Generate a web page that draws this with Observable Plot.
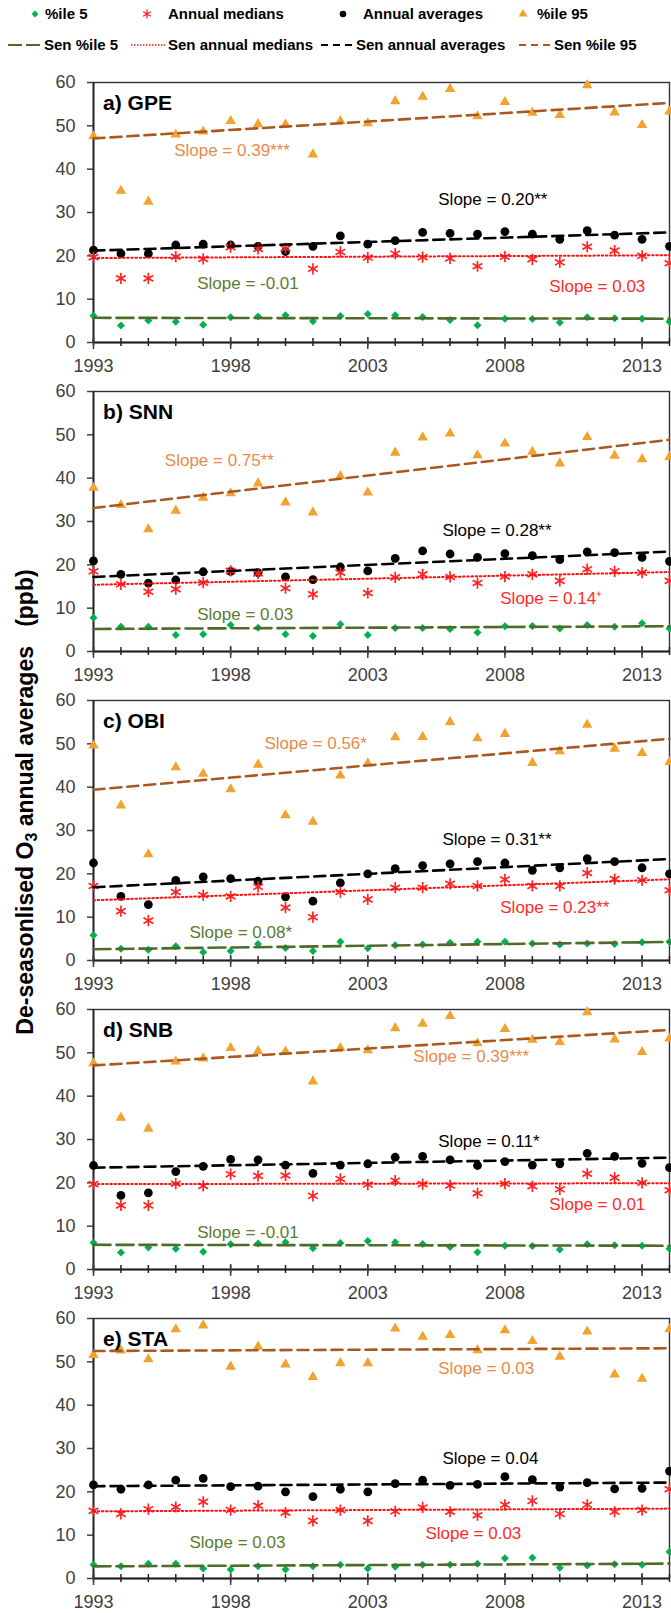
<!DOCTYPE html>
<html>
<head>
<meta charset="utf-8">
<script src="https://cdn.jsdelivr.net/npm/d3@7"></script>
<script src="https://cdn.jsdelivr.net/npm/@observablehq/plot@0.6"></script>
<style>
  html, body { margin: 0; padding: 0; background: #fff; overflow: hidden; }
  #chart { position: relative; width: 671px; font-family: "Liberation Sans", Arial, sans-serif; }
  #chart svg { display: block; }
  #ytitle {
    position: absolute; left: 25px; top: 802px;
    transform: translate(-50%, -50%) rotate(-90deg);
    white-space: pre; font: bold 23px "Liberation Sans", Arial, sans-serif; color: #000;
  }
  #ytitle sub { font-size: 0.7em; vertical-align: -0.25em; line-height: 0; }
</style>
</head>
<body>
<div id="chart"></div>
<script>
// ---- Data: de-seasonalised O3 annual statistics (ppb), 1993-2014 ----
const years = [1993, 1994, 1995, 1996, 1997, 1998, 1999, 2000, 2001, 2002, 2003,
               2004, 2005, 2006, 2007, 2008, 2009, 2010, 2011, 2012, 2013, 2014];
const xLabelYears = [1993, 1998, 2003, 2008, 2013];
const yTicks = [0, 10, 20, 30, 40, 50, 60];

// a) GPE
const gpeP5  = [6.2, 3.9, 5.1, 4.8, 4.1, 5.8, 6.0, 6.3, 4.9, 6.1, 6.6, 6.3, 5.9, 5.2, 4.0, 5.5, 5.4, 4.6, 5.8, 5.6, 5.5, 4.8];
const gpeMed = [19.7, 14.8, 14.8, 19.8, 19.3, 22.0, 21.6, 21.7, 17.0, 20.9, 19.6, 20.5, 19.7, 19.4, 17.6, 19.8, 19.2, 18.5, 22.1, 21.2, 20.0, 18.3];
const gpeAvg = [21.3, 20.5, 20.5, 22.5, 22.7, 22.5, 22.2, 21.0, 22.2, 24.6, 22.7, 23.5, 25.4, 25.2, 25.0, 25.6, 25.0, 23.8, 25.8, 24.8, 23.8, 22.2];
const gpeP95 = [47.6, 35.0, 32.5, 48.0, 48.7, 51.1, 50.4, 50.3, 43.4, 51.1, 50.6, 55.7, 56.7, 58.5, 52.2, 55.5, 53.0, 52.5, 59.4, 53.1, 50.2, 53.3];
const gpeSlope = {p5: -0.01, med: 0.03, avg: 0.20, p95: 0.39};
const gpeSig   = {p5: "", med: "", avg: "**", p95: "***"};
const gpeSen1993 = {p5: 5.7, med: 19.5, avg: 21.2, p95: 47.1};

// b) SNN
const snnP5  = [7.8, 5.7, 5.7, 3.8, 4.0, 6.1, 5.5, 4.0, 3.6, 6.3, 3.8, 5.4, 5.4, 5.2, 4.4, 5.8, 5.9, 5.3, 6.1, 5.7, 6.5, 5.3];
const snnMed = [18.5, 15.5, 13.8, 14.4, 15.9, 18.6, 18.0, 14.6, 13.2, 18.2, 13.5, 17.1, 17.8, 17.2, 15.8, 17.3, 17.8, 16.3, 19.0, 18.5, 18.2, 16.3];
const snnAvg = [20.9, 17.8, 15.8, 16.5, 18.4, 18.5, 18.2, 17.2, 16.6, 19.5, 18.6, 21.5, 23.2, 22.5, 21.7, 22.6, 22.1, 21.2, 23.0, 22.8, 21.7, 20.8];
const snnP95 = [37.8, 33.8, 28.2, 32.5, 35.5, 36.5, 38.8, 34.4, 32.1, 40.5, 36.7, 45.9, 49.4, 50.3, 45.3, 48.0, 46.1, 43.4, 49.5, 45.2, 44.4, 44.9];
const snnSlope = {p5: 0.03, med: 0.14, avg: 0.28, p95: 0.75};
const snnSig   = {p5: "", med: "\u207A", avg: "**", p95: "**"};
const snnSen1993 = {p5: 5.2, med: 15.4, avg: 17.2, p95: 33.1};

// c) OBI
const obiP5  = [5.8, 2.7, 2.5, 3.3, 1.9, 2.2, 3.8, 2.9, 2.2, 4.3, 2.8, 3.5, 3.7, 4.1, 4.3, 4.3, 3.9, 3.7, 3.9, 3.8, 4.2, 4.3];
const obiMed = [17.2, 11.4, 9.2, 15.8, 15.1, 14.8, 17.0, 12.2, 10.0, 15.8, 14.1, 16.8, 16.8, 17.7, 17.2, 18.7, 17.2, 17.2, 20.2, 18.8, 18.5, 16.2];
const obiAvg = [22.5, 14.8, 12.9, 18.5, 19.3, 18.9, 18.3, 14.7, 13.7, 17.9, 20.0, 21.2, 21.9, 22.3, 22.8, 22.5, 20.8, 21.4, 23.5, 22.8, 21.4, 20.0];
const obiP95 = [49.6, 35.8, 24.5, 44.6, 43.1, 39.5, 45.2, 33.5, 32.0, 42.7, 45.5, 51.5, 51.6, 55.0, 51.3, 52.3, 45.6, 48.3, 54.4, 48.9, 47.9, 45.8];
const obiSlope = {p5: 0.08, med: 0.23, avg: 0.31, p95: 0.56};
const obiSig   = {p5: "*", med: "**", avg: "**", p95: "*"};
const obiSen1993 = {p5: 2.6, med: 13.9, avg: 16.9, p95: 39.4};

// d) SNB
const snbP5  = [6.2, 3.9, 5.1, 4.8, 4.1, 5.8, 6.0, 6.3, 4.9, 6.1, 6.6, 6.3, 5.9, 5.2, 4.0, 5.5, 5.4, 4.6, 5.8, 5.6, 5.5, 4.8];
const snbMed = [19.7, 14.8, 14.8, 19.8, 19.3, 22.0, 21.6, 21.7, 17.0, 20.9, 19.6, 20.5, 19.7, 19.4, 17.6, 19.8, 19.2, 18.5, 22.1, 21.2, 20.0, 18.3];
const snbAvg = [24.0, 17.1, 17.7, 22.6, 23.8, 25.4, 25.3, 24.1, 22.2, 24.1, 24.4, 25.9, 26.1, 25.3, 24.0, 24.9, 24.1, 24.4, 26.8, 26.1, 24.5, 23.5];
const snbP95 = [47.6, 35.0, 32.5, 48.0, 48.7, 51.1, 50.4, 50.3, 43.4, 51.1, 50.6, 55.7, 56.7, 58.5, 52.2, 55.5, 53.0, 52.5, 59.4, 53.1, 50.2, 53.3];
const snbSlope = {p5: -0.01, med: 0.01, avg: 0.11, p95: 0.39};
const snbSig   = {p5: "", med: "", avg: "*", p95: "***"};
const snbSen1993 = {p5: 5.7, med: 19.7, avg: 23.5, p95: 47.1};

// e) STA
const staP5  = [3.2, 2.8, 3.4, 3.4, 2.3, 2.1, 2.8, 2.1, 2.8, 3.2, 2.3, 2.7, 3.2, 3.2, 3.4, 4.7, 4.8, 2.5, 3.0, 3.3, 3.2, 6.2];
const staMed = [15.6, 14.9, 16.0, 16.5, 17.7, 15.8, 16.8, 15.2, 13.3, 15.8, 13.3, 15.5, 16.4, 15.4, 14.6, 17.0, 17.9, 14.9, 17.0, 15.4, 15.8, 20.6];
const staAvg = [21.6, 20.6, 21.6, 22.7, 23.1, 21.2, 21.3, 20.0, 18.9, 20.6, 20.0, 21.9, 22.7, 21.5, 21.7, 23.5, 22.8, 21.1, 22.1, 20.7, 20.8, 24.8];
const staP95 = [51.6, 52.6, 50.6, 57.5, 58.4, 48.9, 53.5, 49.4, 46.5, 49.7, 49.7, 57.7, 55.8, 56.2, 52.7, 57.3, 54.8, 51.2, 57.0, 47.1, 46.1, 57.5];
const staSlope = {p5: 0.03, med: 0.03, avg: 0.04, p95: 0.03};
const staSig   = {p5: "", med: "", avg: "", p95: ""};
const staSen1993 = {p5: 2.8, med: 15.5, avg: 21.3, p95: 52.5};

// ---- Series appearance ----
const seriesKeys = ["p95", "avg", "med", "p5"];
const style = {
  p5:  {name: "%ile 5",          symbol: "diamond2", fill: "#00B050", stroke: "none",    r: 3.6, sw: 0,
        line: "#4F6B28", dash: "17,6",    lw: 2.6, note: "#5B7B31", senName: "Sen %ile 5"},
  med: {name: "Annual medians",  symbol: "asterisk", fill: "none",    stroke: "#FF2424", r: 5.3, sw: 1.7,
        line: "#FF1010", dash: "1.6,2.6", lw: 2.0, note: "#FF2A2A", senName: "Sen annual medians"},
  avg: {name: "Annual averages", symbol: "circle",   fill: "#000",    stroke: "none",    r: 4.4, sw: 0,
        line: "#000",    dash: "11,6",    lw: 2.6, note: "#000",    senName: "Sen annual averages"},
  p95: {name: "%ile 95",         symbol: "triangle", fill: "#F2A22F", stroke: "none",    r: 3.9, sw: 0,
        line: "#A9581F", dash: "11,6",    lw: 2.6, note: "#E88B4A", senName: "Sen %ile 95"}
};

// ---- Panels: data plus where each slope note is written (year, ppb) ----
const panels = [
  {title: "a) GPE", p5: gpeP5, med: gpeMed, avg: gpeAvg, p95: gpeP95, slope: gpeSlope, sig: gpeSig, sen: gpeSen1993,
   noteAt: {p95: [1995.94, 44.4], avg: [2005.57, 32.9], p5: [1996.78, 13.5], med: [2009.62, 12.9]}},
  {title: "b) SNN", p5: snnP5, med: snnMed, avg: snnAvg, p95: snnP95, slope: snnSlope, sig: snnSig, sen: snnSen1993,
   noteAt: {p95: [1995.6, 44.0], avg: [2005.72, 27.9], p5: [1996.78, 8.6], med: [2007.83, 12.3]}},
  {title: "c) OBI", p5: obiP5, med: obiMed, avg: obiAvg, p95: obiP95, slope: obiSlope, sig: obiSig, sen: obiSen1993,
   noteAt: {p95: [1999.23, 50.0], avg: [2005.72, 27.8], p5: [1996.5, 6.4], med: [2007.83, 12.3]}},
  {title: "d) SNB", p5: snbP5, med: snbMed, avg: snbAvg, p95: snbP95, slope: snbSlope, sig: snbSig, sen: snbSen1993,
   noteAt: {p95: [2004.66, 49.1], avg: [2005.57, 29.5], p5: [1996.78, 8.5], med: [2009.62, 15.1]}},
  {title: "e) STA", p5: staP5, med: staMed, avg: staAvg, p95: staP95, slope: staSlope, sig: staSig, sen: staSen1993,
   noteAt: {p95: [2005.57, 48.5], avg: [2005.72, 27.7], p5: [1996.5, 8.4], med: [2005.1, 10.4]}}
];

const FONT = '"Liberation Sans", Arial, sans-serif';
const AXIS = "#404040";
const root = d3.select("#chart");

// ---- Legend (two rows above the panels) ----
const legend = d3.create("svg").attr("width", 671).attr("height", 70)
  .style("font-family", FONT).style("font-weight", "bold").style("font-size", "15px");
const legendMarks = [
  {key: "p5", x: 35, tx: 45}, {key: "med", x: 147, tx: 168},
  {key: "avg", x: 343, tx: 363}, {key: "p95", x: 523, tx: 537}
];
const legendLines = [
  {key: "p5", x1: 8, x2: 41, tx: 44, dash: "14,4"},
  {key: "med", x1: 131, x2: 165, tx: 168, dash: "1.5,1.5"},
  {key: "avg", x1: 321, x2: 353, tx: 356, dash: "7,5"},
  {key: "p95", x1: 519, x2: 551, tx: 554, dash: "7,5"}
];
const legendSymbol = {p5: [d3.symbolDiamond2, 30], med: [d3.symbolAsterisk, 55], avg: [d3.symbolCircle, 34], p95: [d3.symbolTriangle, 34]};
for (const m of legendMarks) {
  const s = style[m.key];
  const [sym, size] = legendSymbol[m.key];
  legend.append("path").attr("d", d3.symbol(sym, size)())
    .attr("transform", `translate(${m.x},14)`)
    .attr("fill", s.fill).attr("stroke", s.stroke).attr("stroke-width", 1.3);
  legend.append("text").attr("x", m.tx).attr("y", 14).attr("dy", "0.35em").text(s.name);
}
for (const l of legendLines) {
  const s = style[l.key];
  legend.append("line").attr("x1", l.x1).attr("x2", l.x2).attr("y1", 45).attr("y2", 45)
    .attr("stroke", s.line).attr("stroke-width", l.key === "med" ? 1.6 : 2.2).attr("stroke-dasharray", l.dash);
  legend.append("text").attr("x", l.tx).attr("y", 45).attr("dy", "0.35em").text(s.senName);
}
root.node().appendChild(legend.node());

// ---- One chart per station ----
panels.forEach((p, idx) => {
  const last = idx === panels.length - 1;
  const points = k => years.map((year, i) => ({year, value: p[k][i]}));
  const senLine = k => [1993, 2014].map(year => ({year, value: p.sen[k] + p.slope[k] * (year - 1993)}));
  const notes = seriesKeys.map(k => ({
    year: p.noteAt[k][0], value: p.noteAt[k][1],
    text: `Slope = ${p.slope[k].toFixed(2)}${p.sig[k]}`, color: style[k].note
  }));

  const marks = [
    Plot.frame({stroke: "#333", strokeWidth: 1.4}),
    Plot.ruleY([0], {stroke: "#222", strokeWidth: 2}),
    Plot.ruleX([1993], {stroke: "#222", strokeWidth: 1.8}),
    Plot.axisY({ticks: yTicks, tickSize: 6, tickPadding: 12, fontSize: 18, color: AXIS, strokeWidth: 1.5, label: null}),
    Plot.axisX({ticks: years, tickSize: 8, dy: -4, tickFormat: () => "", color: "#222", strokeWidth: 1.5, label: null}),
    Plot.axisX({ticks: xLabelYears, tickSize: 12, dy: -5, tickFormat: d => String(d), tickPadding: 10,
                fontSize: 18, color: AXIS, strokeWidth: 1.5, label: null})
  ];
  for (const k of seriesKeys) {
    const s = style[k];
    marks.push(Plot.dot(points(k), {x: "year", y: "value", symbol: s.symbol, r: s.r,
      fill: s.fill, stroke: s.stroke, strokeWidth: s.sw}));
  }
  for (const k of ["p5", "med", "avg", "p95"]) {
    const s = style[k];
    marks.push(Plot.line(senLine(k), {x: "year", y: "value", stroke: s.line, strokeWidth: s.lw, strokeDasharray: s.dash}));
  }
  marks.push(Plot.text(notes, {x: "year", y: "value", text: "text", fill: "color",
    textAnchor: "start", fontSize: 17}));
  marks.push(Plot.text([p.title], {x: 1993.35, y: 55.2, text: d => d, textAnchor: "start",
    fontSize: 21, fontWeight: "bold", fill: "#000"}));

  const chart = Plot.plot({
    width: 671, height: last ? 307 : 309,
    marginLeft: 93, marginRight: 2, marginTop: 12, marginBottom: last ? 35 : 37,
    x: {domain: [1993, 2014]},
    y: {domain: [0, 60]},
    style: {fontFamily: FONT, fontSize: "18px", background: "transparent", overflow: "visible"},
    marks
  });
  root.node().appendChild(chart);
});

// ---- Shared y-axis title ----
const ytitle = document.createElement("div");
ytitle.id = "ytitle";
ytitle.innerHTML = "De-seasonlised O<sub>3</sub> annual averages   (ppb)";
root.node().appendChild(ytitle);
</script>
</body>
</html>
